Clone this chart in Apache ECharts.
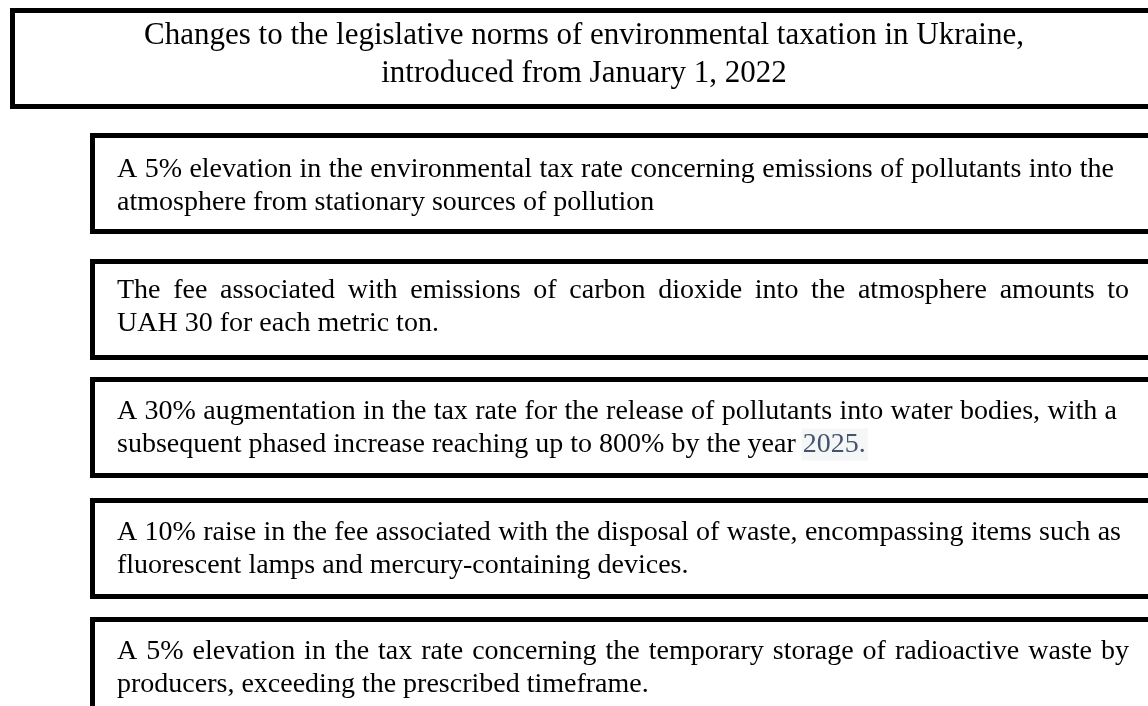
<!DOCTYPE html>
<html><head><meta charset="utf-8">
<script src="https://cdn.jsdelivr.net/npm/echarts@6/dist/echarts.min.js"></script>
<style>html,body{margin:0;padding:0;background:#fff;overflow:hidden}#c{width:1148px;height:706px}</style>
</head><body><div id="c"></div>
<script>
// ---- content ----
const headerLines = [
  "Changes to the legislative norms of environmental taxation in Ukraine,",
  "introduced from January 1, 2022"
];
const item1 = ["A 5% elevation in the environmental tax rate concerning emissions of pollutants into the",
  "atmosphere from stationary sources of pollution"];
const item2 = ["The fee associated with emissions of carbon dioxide into the atmosphere amounts to",
  "UAH 30 for each metric ton."];
const item3 = ["A 30% augmentation in the tax rate for the release of pollutants into water bodies, with a",
  "subsequent phased increase reaching up to 800% by the year 2025."];
const item4 = ["A 10% raise in the fee associated with the disposal of waste, encompassing items such as",
  "fluorescent lamps and mercury-containing devices."];
const item5 = ["A 5% elevation in the tax rate concerning the temporary storage of radioactive waste by",
  "producers, exceeding the prescribed timeframe."];
const items = [item1, item2, item3, item4, item5];
const highlightWords = ["2025."];

// ---- layout ----
const FONT = '"Liberation Serif", "Times New Roman", serif';
const headerSize = 31, itemSize = 28;
const headerBox = {x: 12.5, y: 10.5, w: 1300, h: 96};
const headerCenterX = 584, headerLineY = [36, 74];
const boxX = 92.5, boxW = 1300, boxH = 96;
const boxTops = [135.5, 261.5, 379.5, 500.5, 619.5];
const textOffsets = [34, 29, 32, 32, 32];
const lineGap = 33;
const textX = 117;
const lineEnds = [1114, 1129, 1117, 1121, 1129];

const cv = document.createElement('canvas').getContext('2d');
function measure(t, size) { cv.font = size + 'px ' + FONT; return cv.measureText(t).width; }

const chart = echarts.init(document.getElementById('c'), null, {renderer: 'canvas'});
function build() {
  const g = [];
  g.push({type: 'rect', shape: {x: headerBox.x, y: headerBox.y, width: headerBox.w, height: headerBox.h},
    style: {fill: '#fff', stroke: '#000', lineWidth: 5}});
  headerLines.forEach((t, i) => g.push({type: 'text', x: headerCenterX, y: headerLineY[i],
    style: {text: t, font: headerSize + 'px ' + FONT, fill: '#000', align: 'center', verticalAlign: 'middle'}}));
  items.forEach((lines, bi) => {
    const top = boxTops[bi];
    const y1 = top + textOffsets[bi], y2 = y1 + lineGap;
    g.push({type: 'rect', shape: {x: boxX, y: top, width: boxW, height: boxH},
      style: {fill: '#fff', stroke: '#000', lineWidth: 5}});
    // first line: justified
    const words = lines[0].split(' ');
    const ws = words.map(w => measure(w, itemSize));
    const total = ws.reduce((a, b) => a + b, 0);
    const gap = (lineEnds[bi] - textX - total) / (words.length - 1);
    let x = textX;
    words.forEach((w, wi) => {
      g.push({type: 'text', x: x, y: y1,
        style: {text: w, font: itemSize + 'px ' + FONT, fill: '#000', align: 'left', verticalAlign: 'middle'}});
      x += ws[wi] + gap;
    });
    // second line: left aligned, with highlighted words
    const line2 = lines[1];
    const hl = highlightWords.find(h => line2.endsWith(h));
    if (hl) {
      const pre = line2.slice(0, line2.length - hl.length);
      g.push({type: 'text', x: textX, y: y2,
        style: {text: pre, font: itemSize + 'px ' + FONT, fill: '#000', align: 'left', verticalAlign: 'middle'}});
      const px = textX + measure(pre, itemSize);
      const hw = measure(hl, itemSize);
      g.push({type: 'rect', shape: {x: px - 1, y: y2 - 16, width: hw + 3, height: 32},
        style: {fill: '#f5f6f8'}});
      g.push({type: 'text', x: px, y: y2,
        style: {text: hl, font: itemSize + 'px ' + FONT, fill: '#44546a', align: 'left', verticalAlign: 'middle'}});
    } else {
      g.push({type: 'text', x: textX, y: y2,
        style: {text: line2, font: itemSize + 'px ' + FONT, fill: '#000', align: 'left', verticalAlign: 'middle'}});
    }
  });
  chart.setOption({backgroundColor: '#fff', animation: false, graphic: {elements: g}});
}
build();
</script>
</body></html>
